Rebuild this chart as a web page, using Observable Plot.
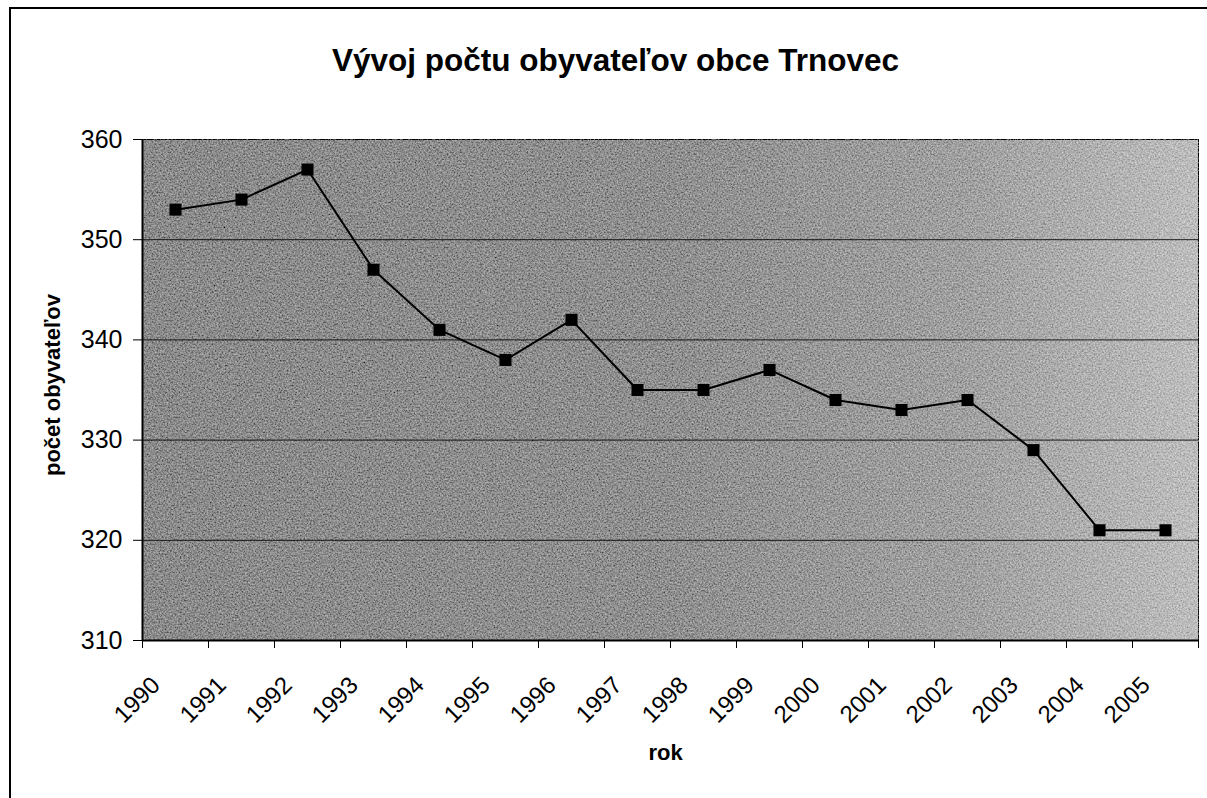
<!DOCTYPE html>
<html>
<head>
<meta charset="utf-8">
<script src="https://cdn.jsdelivr.net/npm/d3@7"></script>
<script src="https://cdn.jsdelivr.net/npm/@observablehq/plot@0.6"></script>
<style>
  html, body { margin: 0; padding: 0; background: #fff; overflow: hidden; }
  #wrap { position: relative; width: 1207px; height: 798px; font-family: "Liberation Sans", Arial, sans-serif; }
  #border { position: absolute; left: 9px; top: 7px; width: 1300px; height: 900px;
            border-top: 2px solid #000; border-left: 2px solid #000; pointer-events: none; }
  #title { height: 100px; box-sizing: border-box; padding-top: 42px; padding-left: 24px;
           font-size: 31.5px; font-weight: bold; line-height: 36px; text-align: center; color: #000; }
  svg { display: block; }
</style>
</head>
<body>
<div id="wrap">
  <div id="border"></div>
  <div id="title">Vývoj počtu obyvateľov obce Trnovec</div>
  <div id="chart"></div>
</div>
<script>
const years = [1990, 1991, 1992, 1993, 1994, 1995, 1996, 1997, 1998, 1999, 2000, 2001, 2002, 2003, 2004, 2005];
const population = [353, 354, 357, 347, 341, 338, 342, 335, 335, 337, 334, 333, 334, 329, 321, 321];
const yTicks = [310, 320, 330, 340, 350, 360];
const yLabel = "počet obyvateľov";
const xLabel = "rok";

const data = years.map((year, i) => ({year, value: population[i]}));
const boundaries = [...years.map(y => y - 0.5), years[years.length - 1] + 0.5];
const font = "'Liberation Sans', Arial, sans-serif";

const chart = Plot.plot({
  width: 1207,
  height: 698,
  marginTop: 39,
  marginBottom: 158,
  marginLeft: 142,
  marginRight: 9,
  x: {domain: [boundaries[0], boundaries[boundaries.length - 1]]},
  y: {domain: [yTicks[0], yTicks[yTicks.length - 1]]},
  style: {fontFamily: font, background: "white", color: "black", overflow: "visible"},
  marks: [
    Plot.frame({fill: "url(#bgGrad)", stroke: "black", strokeWidth: 1}),
    Plot.ruleY(yTicks.slice(1, -1), {stroke: "black", strokeWidth: 1, strokeOpacity: 0.85}),
    Plot.axisY({ticks: yTicks, tickSize: 9, tickPadding: 11, fontSize: 25, label: null, tickFormat: d => String(d)}),
    Plot.axisX({ticks: boundaries, tickSize: 8, tickFormat: () => "", label: null}),
    Plot.text(data, {x: "year", text: d => String(d.year), frameAnchor: "bottom", dy: 46, dx: -14,
                     rotate: -45, textAnchor: "end", fontSize: 24, fill: "black"}),
    Plot.ruleX([boundaries[0]], {stroke: "black", strokeWidth: 2}),
    Plot.ruleY([yTicks[0]], {stroke: "black", strokeWidth: 2}),
    Plot.line(data, {x: "year", y: "value", stroke: "black", strokeWidth: 2}),
    Plot.dot(data, {x: "year", y: "value", symbol: "square", fill: "black", stroke: "none", r: 6.8}),
    Plot.text([yLabel], {frameAnchor: "left", dx: -90, dy: -5, rotate: -90, textAnchor: "middle",
                         fontSize: 22, fontWeight: "bold", fill: "black"}),
    Plot.text([xLabel], {frameAnchor: "bottom", dy: 119, dx: -5, textAnchor: "middle",
                         fontSize: 22, fontWeight: "bold", fill: "black"})
  ]
});

const svg = d3.select(chart);
const defs = svg.insert("defs", ":first-child");
const grad = defs.append("linearGradient").attr("id", "bgGrad").attr("x1", "0").attr("x2", "1").attr("y1", "0").attr("y2", "0");
[[0, "#8a8a8a"], [0.5, "#8f8f8f"], [0.78, "#a0a0a0"], [1, "#bdbdbd"]].forEach(([o, c]) =>
  grad.append("stop").attr("offset", o).attr("stop-color", c));

// grainy scanned-paper texture for the plot background
const filt = defs.append("filter").attr("id", "grain").attr("x", 0).attr("y", 0).attr("width", 1).attr("height", 1);
filt.append("feTurbulence").attr("type", "fractalNoise").attr("baseFrequency", "0.6").attr("numOctaves", 3).attr("seed", 7).attr("result", "noise");
filt.append("feColorMatrix").attr("in", "noise").attr("type", "matrix")
  .attr("values", "1 0 0 0 0  1 0 0 0 0  1 0 0 0 0  0 0 0 0 1").attr("result", "gray");
filt.append("feComposite").attr("in", "SourceGraphic").attr("in2", "gray").attr("operator", "arithmetic")
  .attr("k1", 0).attr("k2", 1).attr("k3", 0.6).attr("k4", -0.3);
svg.selectAll("[aria-label='frame']").each(function() {
  const el = d3.select(this);
  (this.tagName.toLowerCase() === "rect" ? el : el.selectAll("rect")).attr("filter", "url(#grain)");
});

document.getElementById("chart").appendChild(chart);
</script>
</body>
</html>
